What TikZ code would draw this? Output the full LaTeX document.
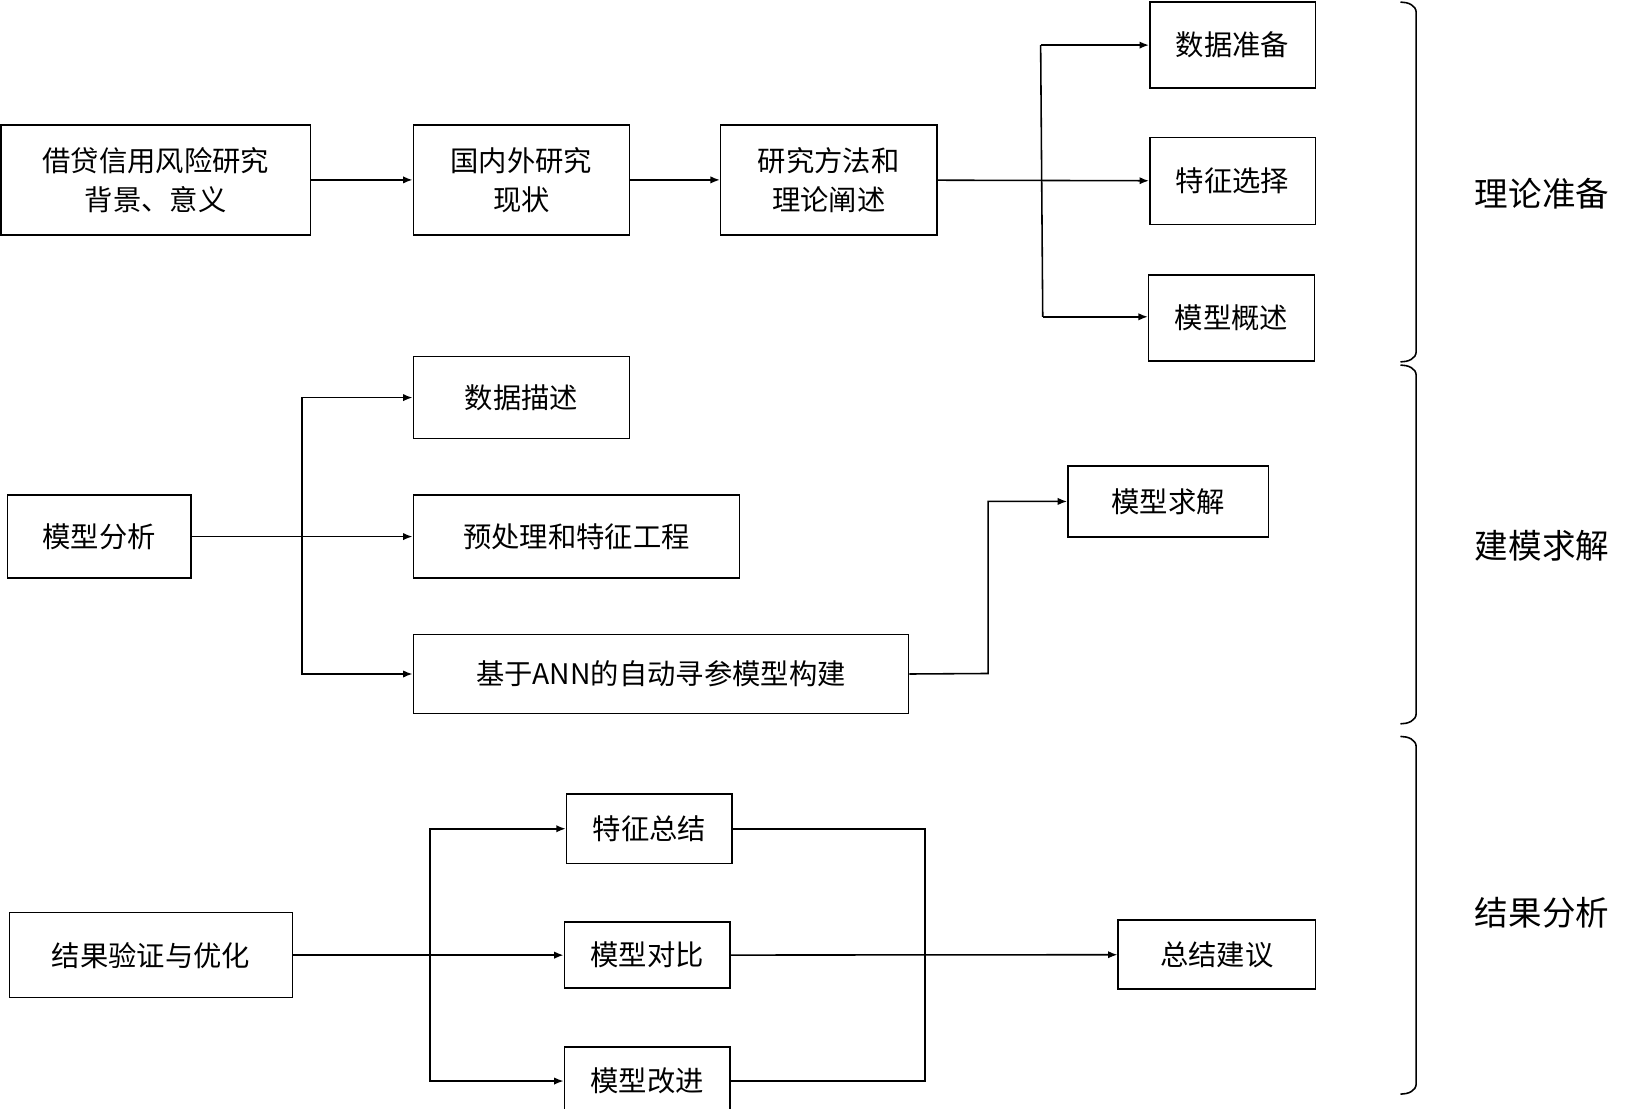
\documentclass[tikz,border=0pt]{standalone}
\usepackage{fontspec}
\setmainfont{Noto Sans CJK SC}
\usetikzlibrary{arrows.meta}
\begin{document}
\begin{tikzpicture}[x=1pt,y=-1pt,
  box/.style={draw,line width=1.5pt,inner sep=0pt,font=\fontsize{27}{37}\selectfont,align=center},
  ar/.style={line width=1.5pt,-{Latex[length=9pt,width=7pt]}},
  ln/.style={line width=1.5pt},
  lab/.style={font=\fontsize{32}{38}\selectfont}]
\useasboundingbox (0,0) rectangle (1550,1057);
\newcommand{\bx}[6]{\node[box,minimum width=#4-#2,minimum height=#5-#3] (#1) at ({(#2+#4)/2},{(#3+#5)/2}) {#6};}
\bx{a}{1}{119}{296}{224}{借贷信用风险研究\\背景、意义}
\bx{b}{394}{119}{600}{224}{国内外研究\\现状}
\bx{c}{687}{119}{893}{224}{研究方法和\\理论阐述}
\bx{d1}{1096}{2}{1254}{84}{数据准备}
\bx{d2}{1096}{131}{1254}{214}{特征选择}
\bx{d3}{1095}{262}{1253}{344}{模型概述}
\bx{m}{7}{472}{182}{551}{模型分析}
\bx{m1}{394}{340}{600}{418}{数据描述}
\bx{m2}{394}{472}{705}{551}{预处理和特征工程}
\bx{m3}{394}{605}{866}{680}{基于ANN的自动寻参模型构建}
\bx{ms}{1018}{444}{1209}{512}{模型求解}
\bx{r}{9}{870}{279}{951}{结果验证与优化}
\bx{r1}{540}{757}{698}{823}{特征总结}
\bx{r2}{538}{879}{696}{942}{模型对比}
\bx{r3}{538}{998}{696}{1063}{模型改进}
\bx{rs}{1066}{877}{1254}{943}{总结建议}
\draw[ar] (a) -- (b);
\draw[ar] (b) -- (c);
\draw[ar] (c) -- (d2);
\coordinate (v1) at (992,43); \coordinate (v2) at (994,302);
\draw[ln] (v1) -- (v2);
\draw[ar] (v1) -- (d1.west|-v1);
\draw[ar] (v2) -- (d3.west|-v2);
\coordinate (p) at (288,512);
\draw[ar] (m) -- (m2);
\draw[ar] (p) |- (m1);
\draw[ar] (p) |- (m3);
\draw[ar] (m3.east) -- (942,642) |- (ms);
\coordinate (q) at (410,910);
\draw[ar] (r) -- (r2);
\draw[ar] (q) |- (r1);
\draw[ar] (q) |- (r3);
\draw[ln] (r1.east) -- (882,790) |- (r3.east);
\draw[ar] (r2) -- (rs);
\foreach \t/\b/\l/\ly in {2/345/理论准备/185, 348/690/建模求解/520, 702/1043/结果分析/870}{
  \draw[ln] (1335,\t) to[out=0,in=90] (1350,\t+10) -- (1350,\b-10) to[out=-90,in=0] (1335,\b);
  \node[lab] at (1470,\ly) {\l};
}
\end{tikzpicture}
\end{document}
